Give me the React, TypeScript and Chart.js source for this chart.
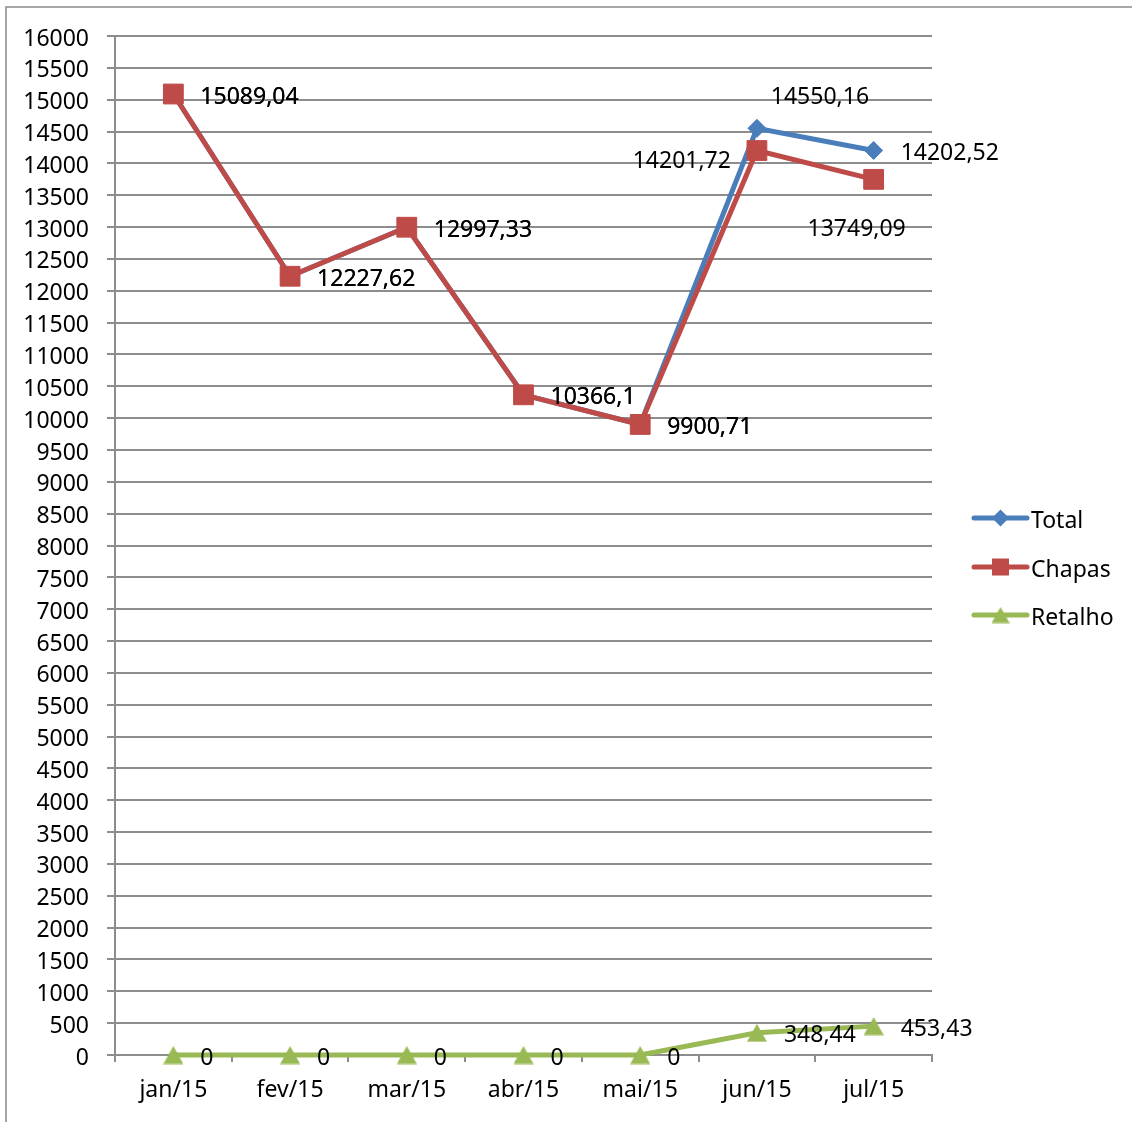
import React, { useEffect, useRef } from "react";
import { Chart, registerables } from "chart.js";

Chart.register(...registerables);

// Monthly figures
const months = ["jan/15", "fev/15", "mar/15", "abr/15", "mai/15", "jun/15", "jul/15"];
const total = [15089.04, 12227.62, 12997.33, 10366.1, 9900.71, 14550.16, 14202.52];
const chapas = [15089.04, 12227.62, 12997.33, 10366.1, 9900.71, 14201.72, 13749.09];
const retalho = [0, 0, 0, 0, 0, 348.44, 453.43];

const seriesNames = ["Total", "Chapas", "Retalho"];

// Axis range
const yMin = 0;
const yMax = 16000;
const yStep = 500;

// Styling
const colors = ["#4A7EBB", "#BE4B48", "#98B954"];
const pointRadii = [9, 14, 11];
const FONT = "'Noto Sans', 'DejaVu Sans', sans-serif";
const FONT_SIZE = 23;
const GRID = "#8d8d8d";
const TEXT_NUDGE = 3; // vertical correction for the font's metrics

// Where each value label sits relative to its point
const labelPlacement: string[][] = [
  ["right", "right", "right", "right", "right", "aboveRight", "right"],
  ["right", "right", "right", "right", "right", "left", "below"],
  ["right", "right", "right", "right", "right", "right", "right"],
];

const fmt = (v: number) => String(v).replace(".", ",");

// Triangle marker centred on its bounding box
function makeTriangle(color: string, w: number, h: number) {
  const c = document.createElement("canvas");
  c.width = w;
  c.height = h;
  const g = c.getContext("2d")!;
  g.fillStyle = color;
  g.beginPath();
  g.moveTo(w / 2, 0.5);
  g.lineTo(w, h - 0.5);
  g.lineTo(0, h - 0.5);
  g.closePath();
  g.fill();
  return c;
}

function drawMarker(ctx: CanvasRenderingContext2D, i: number, x: number, y: number, tri: HTMLCanvasElement) {
  ctx.fillStyle = colors[i];
  ctx.beginPath();
  if (i === 0) {
    const r = 8.5;
    ctx.moveTo(x - r, y);
    ctx.lineTo(x, y - r);
    ctx.lineTo(x + r, y);
    ctx.lineTo(x, y + r);
    ctx.closePath();
    ctx.fill();
  } else if (i === 1) {
    ctx.fillRect(x - 8.5, y - 8.5, 17, 17);
  } else {
    ctx.drawImage(tri, x - tri.width / 2, y - tri.height / 2);
  }
}

const valueLabels = {
  id: "valueLabels",
  afterDatasetsDraw(chart: any) {
    const ctx = chart.ctx;
    ctx.save();
    ctx.font = `${FONT_SIZE}px ${FONT}`;
    ctx.fillStyle = "#000";
    ctx.textBaseline = "middle";
    chart.data.datasets.forEach((ds: any, di: number) => {
      const meta = chart.getDatasetMeta(di);
      meta.data.forEach((pt: any, i: number) => {
        const text = fmt(ds.data[i]);
        const place = labelPlacement[di][i];
        let x = pt.x;
        let y = pt.y + TEXT_NUDGE;
        if (place === "right") {
          ctx.textAlign = "left";
          x += 27;
        } else if (place === "left") {
          ctx.textAlign = "right";
          x -= 26;
          y += 8;
        } else if (place === "aboveRight") {
          ctx.textAlign = "center";
          x += 63;
          y -= 34;
        } else {
          ctx.textAlign = "center";
          x -= 17;
          y += 47;
        }
        ctx.fillText(text, x, y);
      });
    });
    ctx.restore();
  },
};

export default function App() {
  const ref = useRef<HTMLCanvasElement | null>(null);

  useEffect(() => {
    if (!ref.current) return;
    const triangle = makeTriangle(colors[2], 20, 19);
    const legendTriangle = makeTriangle(colors[2], 18, 17);
    const pointStyles: any[] = ["rectRot", "rect", triangle];

    const sideLegend = {
      id: "sideLegend",
      afterDraw(chart: any) {
        const ctx = chart.ctx;
        const area = chart.chartArea;
        const x0 = area.right + 40;
        const x1 = x0 + 57;
        const rows = [518, 567, 615];
        ctx.save();
        ctx.font = `${FONT_SIZE}px ${FONT}`;
        ctx.textBaseline = "middle";
        ctx.textAlign = "left";
        seriesNames.forEach((name, i) => {
          const y = rows[i];
          ctx.strokeStyle = colors[i];
          ctx.lineWidth = 5;
          ctx.lineCap = "round";
          ctx.beginPath();
          ctx.moveTo(x0 + 2, y);
          ctx.lineTo(x1 - 2, y);
          ctx.stroke();
          drawMarker(ctx, i, (x0 + x1) / 2, y, legendTriangle);
          ctx.fillStyle = "#000";
          ctx.fillText(name, x1 + 2, y + TEXT_NUDGE);
        });
        ctx.restore();
      },
    };

    const frame = {
      id: "frame",
      beforeDraw(chart: any) {
        const ctx = chart.ctx;
        ctx.save();
        ctx.fillStyle = "#fff";
        ctx.fillRect(0, 0, chart.width, chart.height);
        ctx.strokeStyle = "#8a8a8a";
        ctx.lineWidth = 1.5;
        ctx.beginPath();
        ctx.moveTo(6, chart.height);
        ctx.lineTo(6, 7);
        ctx.lineTo(chart.width, 7);
        ctx.stroke();
        ctx.restore();
      },
    };

    const series = [total, chapas, retalho];
    const chart = new Chart(ref.current, {
      type: "line",
      data: {
        labels: months,
        datasets: series.map((data, i) => ({
          label: seriesNames[i],
          data,
          borderColor: colors[i],
          backgroundColor: colors[i],
          borderWidth: 5,
          pointStyle: pointStyles[i],
          pointRadius: pointRadii[i],
          pointBorderWidth: 1,
          pointBorderColor: colors[i],
          pointBackgroundColor: colors[i],
          tension: 0,
          clip: false,
          order: i === 0 ? 2 : i === 1 ? 1 : 0,
        })),
      },
      options: {
        animation: false,
        responsive: false,
        devicePixelRatio: 1,
        layout: { padding: { top: 36, right: 200, left: 0, bottom: 0 } },
        plugins: { legend: { display: false }, tooltip: { enabled: false } },
        scales: {
          x: {
            type: "category",
            offset: true,
            afterFit: (s: any) => {
              s.height = 67;
            },
            grid: {
              offset: true,
              drawOnChartArea: false,
              drawTicks: true,
              tickLength: 7,
              color: GRID,
              lineWidth: 2,
            },
            border: { display: true, color: GRID, width: 2 },
            ticks: {
              color: "#000",
              padding: 15,
              maxRotation: 0,
              font: { family: FONT, size: FONT_SIZE },
            },
          },
          y: {
            min: yMin,
            max: yMax,
            afterFit: (s: any) => {
              s.width = 115;
            },
            ticks: {
              stepSize: yStep,
              color: "#000",
              padding: 18,
              labelOffset: TEXT_NUDGE,
              font: { family: FONT, size: FONT_SIZE },
              callback: (v: any) => String(v),
            },
            grid: { color: GRID, lineWidth: 2, tickLength: 8 },
            border: { display: true, color: GRID, width: 2 },
          },
        },
      },
      plugins: [frame, valueLabels, sideLegend],
    } as any);
    return () => chart.destroy();
  }, []);

  return (
    <div style={{ position: "absolute", left: 0, top: 0, width: 1132, height: 1122 }}>
      <canvas ref={ref} width={1132} height={1122} />
    </div>
  );
}
